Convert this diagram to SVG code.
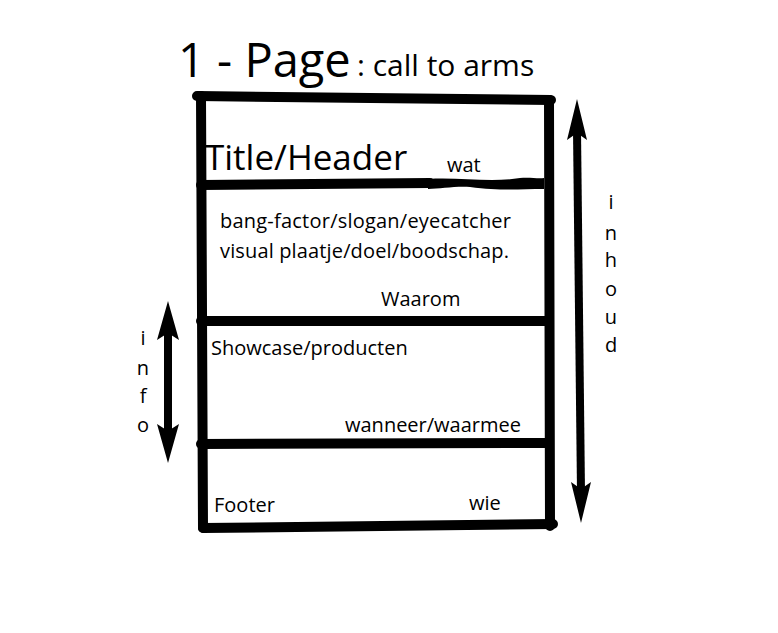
<svg xmlns="http://www.w3.org/2000/svg" width="778" height="633" viewBox="0 0 778 633">
<style>
text{font-family:"Open Sans","Noto Sans","DejaVu Sans",sans-serif;fill:#000}
.s{font-size:20px}
.ln{stroke:#000;stroke-width:10;stroke-linecap:round;fill:none}
.sh{stroke:#000;stroke-width:8;fill:none}
.ah{fill:#000}
</style>
<rect width="778" height="633" fill="#fff"/>
<g id="title">
<text x="178" y="77" style="font-size:47px">1 - Page</text>
<text x="357" y="76" style="font-size:30px">: call to arms</text>
</g>
<g id="frame">
<path class="ln" d="M197 96 L551 100"/>
<path class="ln" d="M201 96 L203 528"/>
<path class="ln" d="M549 100 L550 526"/>
<path class="ln" d="M203 528 L553 524"/>
</g>
<g id="header">
<path class="ln" d="M201 185 L430 183"/>
<path d="M428 179 C460 177 490 183 520 178 C530 177 538 179 544 178 L544 189 C520 189 500 191 470 187 C455 186 440 189 428 189 Z" fill="#000"/>
<text x="205" y="170" style="font-size:35px">Title/Header</text>
<text x="447" y="172" class="s">wat</text>
</g>
<g id="hero">
<path class="ln" d="M201 321 L549 321"/>
<text x="220" y="228" class="s" textLength="291">bang-factor/slogan/eyecatcher</text>
<text x="220" y="258" class="s" textLength="289">visual plaatje/doel/boodschap.</text>
<text x="381" y="306" class="s">Waarom</text>
</g>
<g id="showcase">
<path class="ln" d="M201 444 L549 443"/>
<text x="211" y="355" class="s">Showcase/producten</text>
<text x="345" y="432" class="s">wanneer/waarmee</text>
</g>
<g id="footer">
<text x="214" y="512" class="s">Footer</text>
<text x="469" y="510" class="s">wie</text>
</g>
<g id="connectors">
<g id="info-arrow">
<path class="sh" d="M168 330 L168 435"/>
<path class="ah" d="M168 301 L179 340 L168 333 L157 340 Z"/>
<path class="ah" d="M168 463 L179 424 L168 431 L157 424 Z"/>
</g>
<g id="inhoud-arrow">
<path class="sh" d="M577 130 L581 492"/>
<path class="ah" d="M577 99 L587 140 L577 133 L567 140 Z"/>
<path class="ah" d="M581 523 L591 482 L581 489 L571 482 Z"/>
</g>
</g>
<g id="labels">
<text x="143" y="345" class="s" text-anchor="middle">i</text>
<text x="143" y="375" class="s" text-anchor="middle">n</text>
<text x="143" y="403" class="s" text-anchor="middle">f</text>
<text x="143" y="432" class="s" text-anchor="middle">o</text>
<text x="611" y="209" class="s" text-anchor="middle">i</text>
<text x="611" y="240" class="s" text-anchor="middle">n</text>
<text x="611" y="267" class="s" text-anchor="middle">h</text>
<text x="611" y="296" class="s" text-anchor="middle">o</text>
<text x="611" y="324" class="s" text-anchor="middle">u</text>
<text x="611" y="352" class="s" text-anchor="middle">d</text>
</g>
</svg>
